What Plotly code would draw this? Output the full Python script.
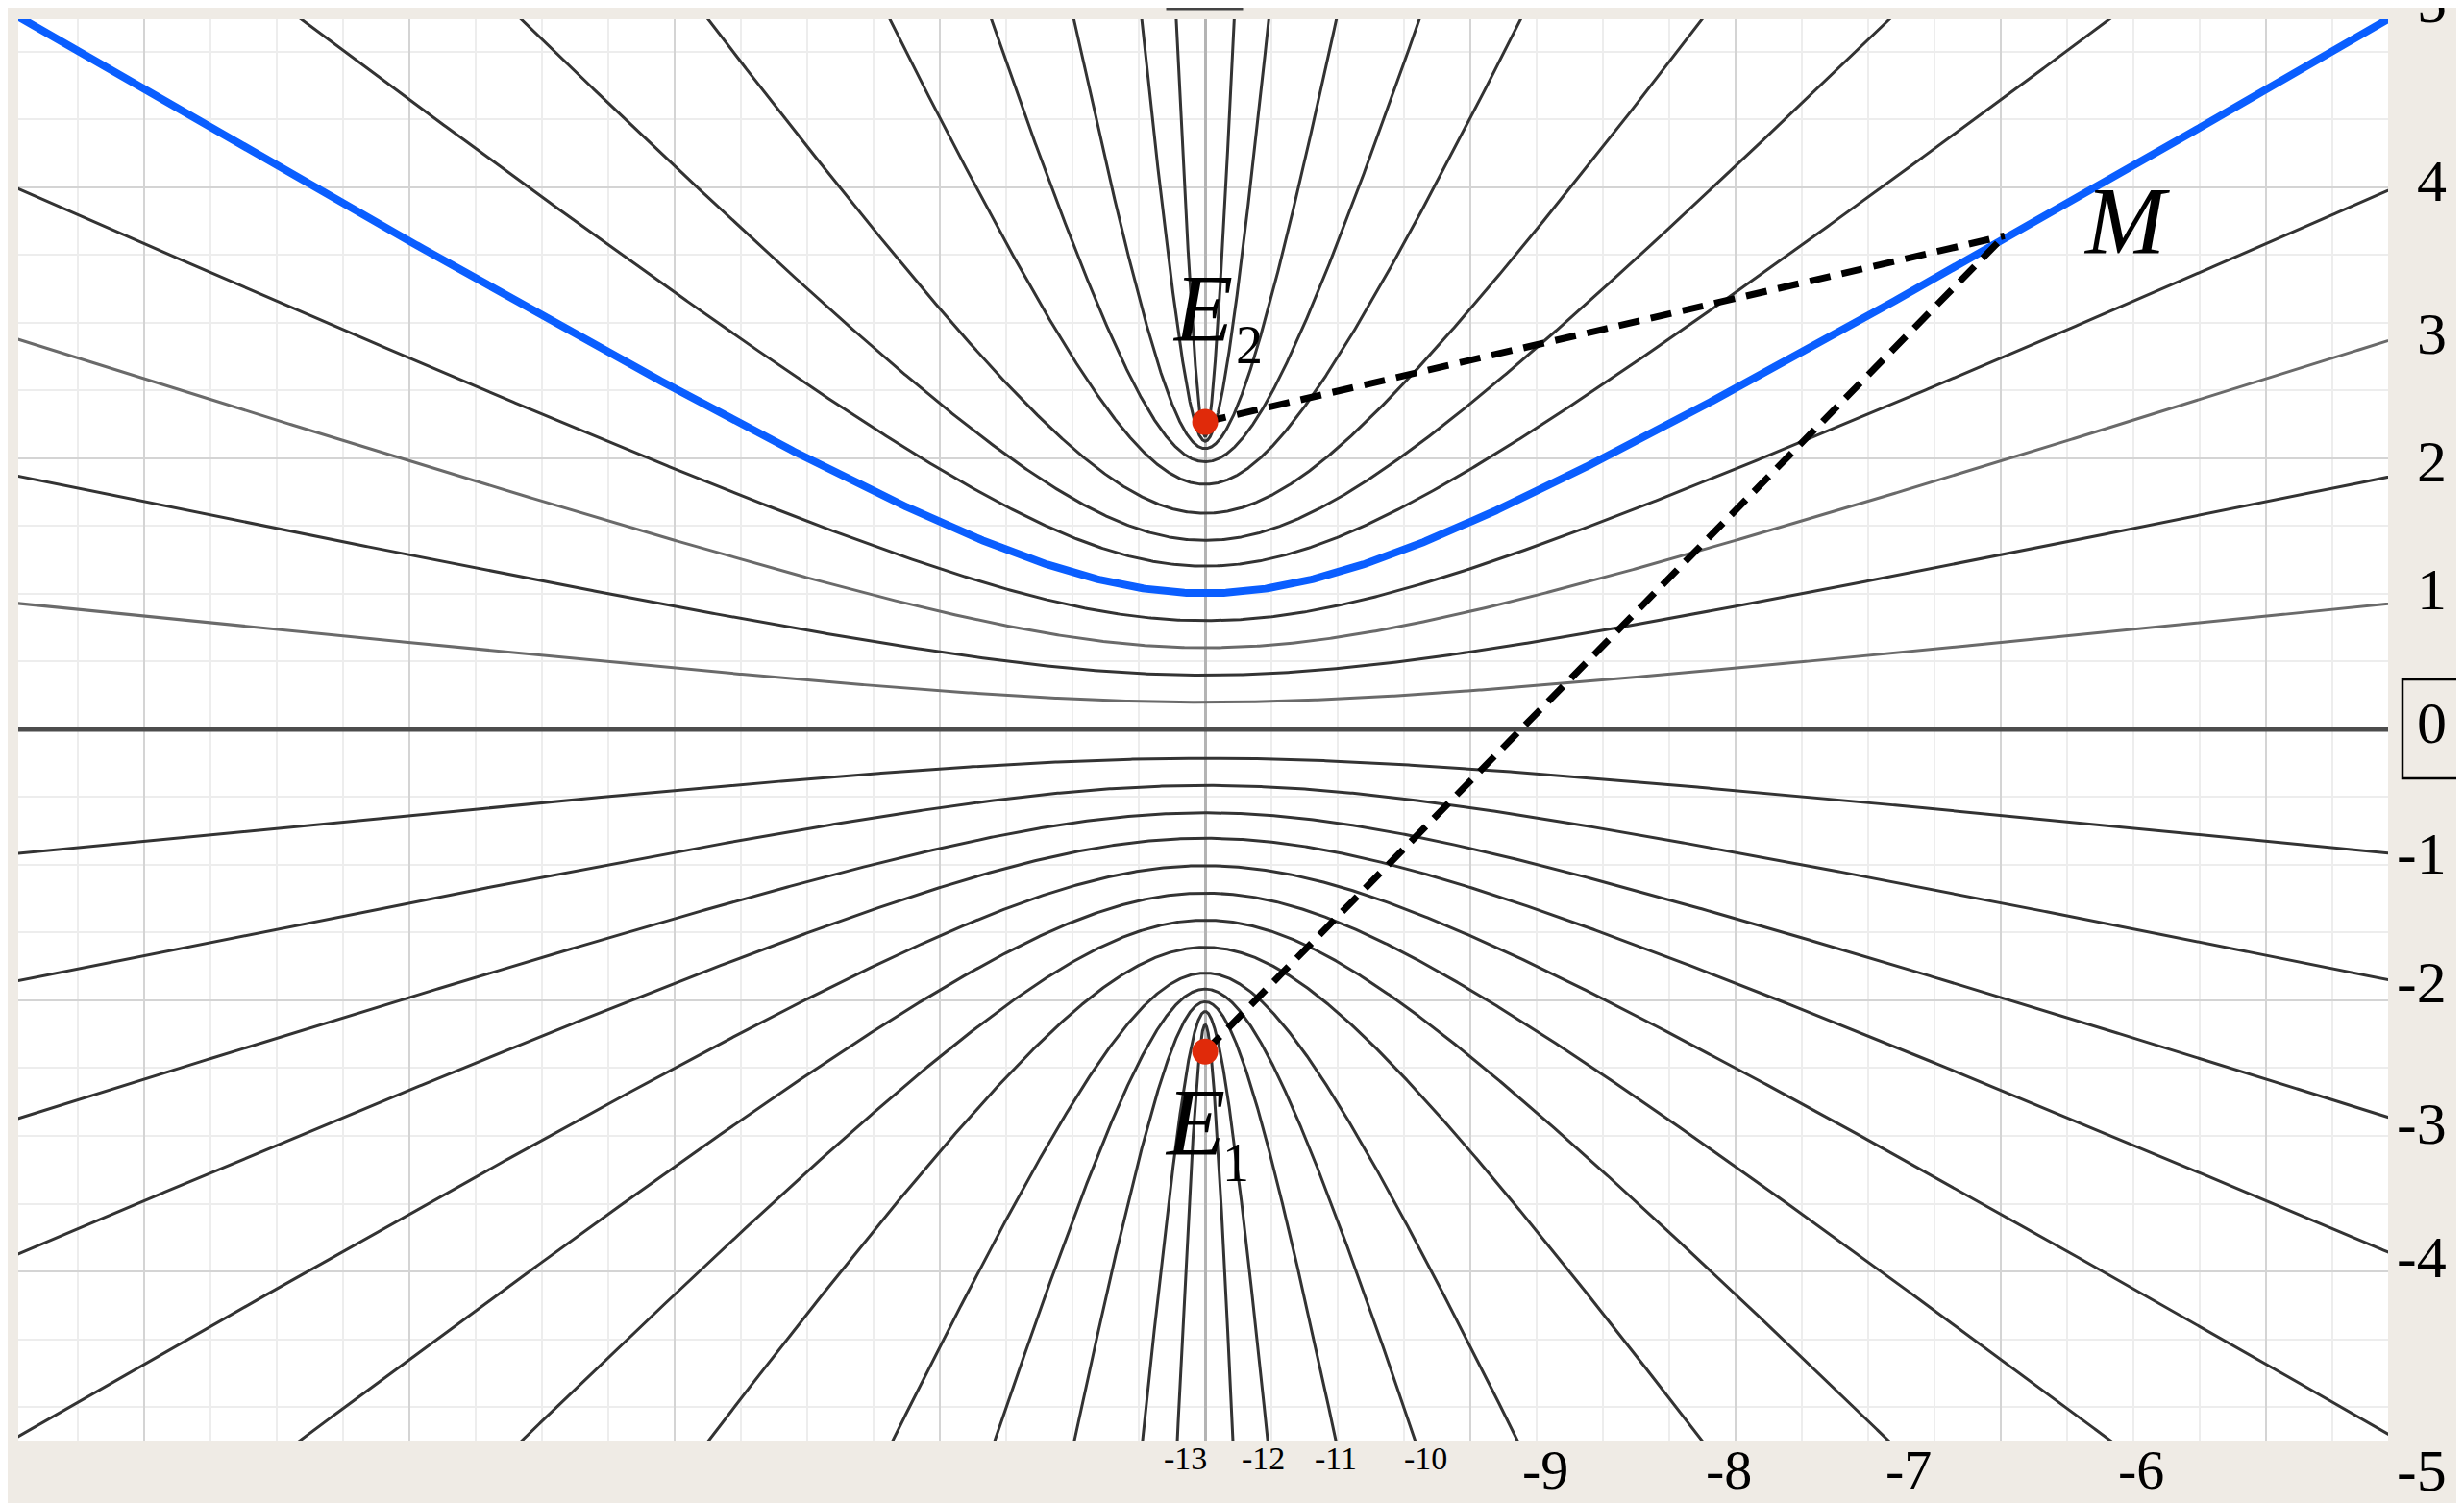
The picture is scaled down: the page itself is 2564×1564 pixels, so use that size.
import numpy as np
import plotly.graph_objects as go

# ---------------- data ----------------
orders = list(range(1, 14))                      # interference orders k = 1..13
# upper family (opening up): vertex height and one point where the curve leaves the frame
upper_vertex = [0.100, 0.200, 0.301, 0.401, 0.502, 0.602, 0.697, 0.797, 0.904, 0.987, 1.036, 1.063, 1.081]
upper_edge_x = [4.46, 4.46, 4.46, 4.46, 4.46, 3.41, 2.58, 1.875, 1.19, 0.808, 0.495, 0.24, 0.11]
upper_edge_y = [0.463, 0.931, 1.434, 1.988, 2.62, 2.62, 2.62, 2.62, 2.62, 2.62, 2.62, 2.62, 2.62]
# lower family (opening down)
lower_vertex = [-0.107, -0.207, -0.308, -0.402, -0.503, -0.604, -0.704, -0.804, -0.899, -0.958, -1.005, -1.041, -1.09]
lower_edge_x = [4.46, 4.46, 4.46, 4.46, 4.46, 3.413, 2.576, 1.873, 1.178, 0.793, 0.493, 0.236, 0.105]
lower_edge_y = [-0.456, -0.924, -1.431, -1.929, -2.60, -2.624, -2.624, -2.624, -2.624, -2.624, -2.624, -2.624, -2.624]
highlight_order = 5                               # the blue curve through M

E1 = (0.0, -1.189)
E2 = (0.0, 1.134)
M = (3.014, 1.821)

right_labels = ["5", "4", "3", "2", "1", "0", "-1", "-2", "-3", "-4", "-5"]
bottom_labels = ["-13", "-12", "-11", "-10", "-9", "-8", "-7", "-6"]

# ---------------- geometry of the frame ----------------
W, H = 2564, 1564
L, R, T, B = 11, 2477, 12, 1491
XR = [-4.475, 4.46]
YR = [-2.624, 2.62]

def hyper(a, ex, ey):
    s = np.sqrt(ey**2 - a**2) / ex
    xm = np.sqrt(9.0 - a**2) / s
    xs = np.linspace(-min(xm, 4.7), min(xm, 4.7), 1201)
    ys = np.sign(a) * np.sqrt(a**2 + (s * xs)**2)
    return xs, ys

fig = go.Figure()

CURVE = "#333333"
LW = 3.0
# k = 0 : straight line
fig.add_trace(go.Scatter(x=[-4.7, 4.7], y=[0, 0], mode="lines",
                         line=dict(color="#4d4d4d", width=5), hoverinfo="skip"))

for k, a, ex, ey in zip(orders, lower_vertex, lower_edge_x, lower_edge_y):
    xs, ys = hyper(a, ex, ey)
    fig.add_trace(go.Scatter(x=xs, y=ys, mode="lines",
                             line=dict(color=CURVE, width=LW), hoverinfo="skip"))

for k, a, ex, ey in zip(orders, upper_vertex, upper_edge_x, upper_edge_y):
    if k == highlight_order:
        continue
    xs, ys = hyper(a, ex, ey)
    col = "#6a6a6a" if k in (1, 3) else CURVE
    fig.add_trace(go.Scatter(x=xs, y=ys, mode="lines",
                             line=dict(color=col, width=LW), hoverinfo="skip"))

i = orders.index(highlight_order)
xs, ys = hyper(upper_vertex[i], upper_edge_x[i], upper_edge_y[i])
fig.add_trace(go.Scatter(x=xs, y=ys, mode="lines",
                         line=dict(color="#0a5eff", width=8), hoverinfo="skip"))

# dashed path-difference segments
for P in (E2, E1):
    fig.add_trace(go.Scatter(x=[P[0], M[0]], y=[P[1], M[1]], mode="lines",
                             line=dict(color="black", width=7, dash="22px,12px"),
                             hoverinfo="skip"))

# sources
fig.add_trace(go.Scatter(x=[E1[0], E2[0]], y=[E1[1], E2[1]], mode="markers",
                         marker=dict(color="#e02a0a", size=27), hoverinfo="skip"))

SERIF = "Liberation Serif, Times New Roman, serif"
DY = 0.03   # text boxes render slightly low; lift them
ann = []
ann.append(dict(x=-0.01, y=1.523 + DY, text="<i>E</i>", font=dict(size=100)))
ann.append(dict(x=0.165, y=1.388 + DY, text="2", font=dict(size=56)))
ann.append(dict(x=-0.04, y=-1.477 + DY, text="<i>E</i>", font=dict(size=100)))
ann.append(dict(x=0.115, y=-1.629 + DY, text="1", font=dict(size=56)))
ann.append(dict(x=3.475, y=1.846 + DY, text="<i>M</i>", font=dict(size=100)))
for a_ in ann:
    a_.update(xref="x", yref="y", showarrow=False, xanchor="center", yanchor="middle")
    a_["font"].update(family=SERIF, color="black")

# right-side order labels (pixel rows of their centres in the frame)
right_py = [-6, 180, 339, 472, 605, 744, 880, 1014, 1161, 1300, 1522]
xr_paper = (2540 - L) / (R - L)
for t, py in zip(right_labels, right_py):
    ann.append(dict(x=xr_paper, y=(B - py) / (B - T), xref="paper", yref="paper", text=t,
                    showarrow=False, xanchor="right", yanchor="middle",
                    font=dict(family=SERIF, size=62, color="black")))

# bottom order labels
bot_x = [-0.073, 0.22, 0.492, 0.832, 1.282, 1.974, 2.651, 3.528]
for j, (t, x) in enumerate(zip(bottom_labels, bot_x)):
    small = j < 4
    py = 1509 if small else 1522
    ann.append(dict(x=x, y=(B - py) / (B - T), xref="x", yref="paper", text=t,
                    showarrow=False, xanchor="center", yanchor="middle",
                    font=dict(family=SERIF, size=34 if small else 58, color="black")))

shapes = [
    # boxed "0" label on the right
    dict(type="rect", xref="paper", yref="paper",
         x0=(2492 - L) / (R - L), x1=(2620 - L) / (R - L),
         y0=(B - 802) / (B - T), y1=(B - 699) / (B - T),
         line=dict(color="black", width=2.5), fillcolor="rgba(0,0,0,0)"),
    # box cut off at the top edge
    dict(type="rect", xref="paper", yref="paper",
         x0=(1207 - L) / (R - L), x1=(1284 - L) / (R - L),
         y0=(B - 1) / (B - T), y1=(B + 60) / (B - T),
         line=dict(color="#444444", width=3), fillcolor="rgba(0,0,0,0)"),
]

axis_common = dict(showticklabels=False, ticks="", showline=False, zeroline=False,
                   dtick=1, tick0=0, gridcolor="#d4d4d4", gridwidth=2,
                   minor=dict(dtick=0.25, tick0=0, showgrid=True,
                              gridcolor="#ededed", gridwidth=1.5, ticks=""))

fig.update_layout(
    width=W, height=H, autosize=False,
    margin=dict(l=L, r=W - R, t=T, b=H - B, pad=0),
    paper_bgcolor="#efebe5", plot_bgcolor="white",
    showlegend=False,
    xaxis=dict(range=XR, **axis_common),
    yaxis=dict(range=YR, **axis_common),
    annotations=ann, shapes=shapes,
)
fig.update_xaxes(zeroline=True, zerolinecolor="#b4b4b4", zerolinewidth=3)

fig.write_html("out.html")
